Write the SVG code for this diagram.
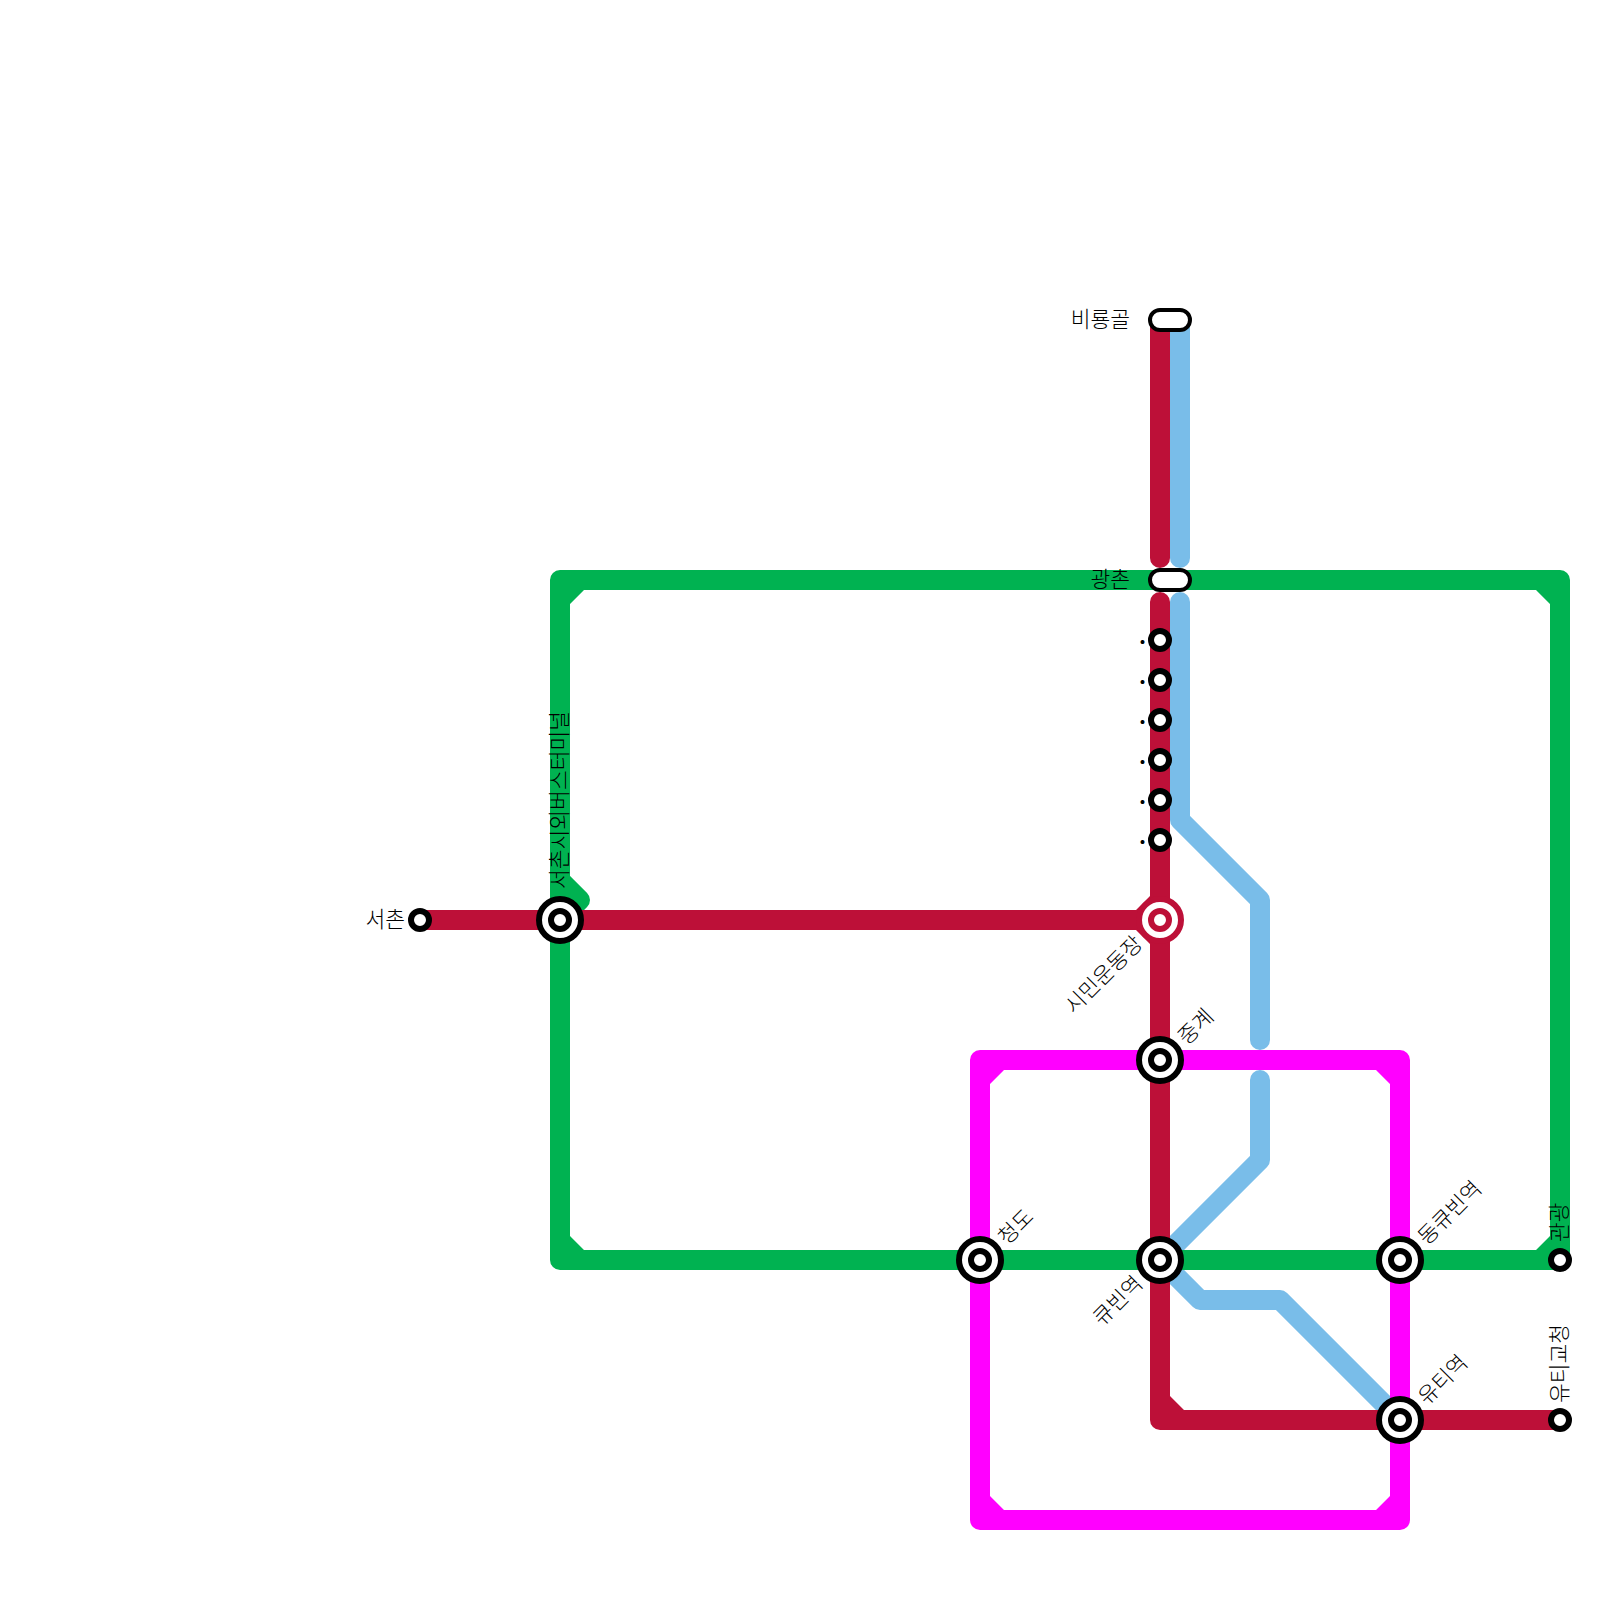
<svg xmlns="http://www.w3.org/2000/svg" width="1600" height="1600" viewBox="0 0 1600 1600">
<style>
.l{fill:none;stroke-width:20;stroke-linecap:round;stroke-linejoin:round}
.b{stroke:#79BDE9}.g{stroke:#00B251}.r{stroke:#BD1038}.m{stroke:#FF00FF}
.fg{fill:#00B251}.fr{fill:#BD1038}.fm{fill:#FF00FF}
.o{fill:#fff;stroke:#000;stroke-width:6}
.i{fill:#fff;stroke:#000;stroke-width:6}
.p{fill:#fff;stroke:#000;stroke-width:4}
.ro{fill:#fff;stroke:#BD1038;stroke-width:6}
.ri{fill:#fff;stroke:#BD1038;stroke-width:6}
text{font-family:"Noto Sans CJK KR","Noto Sans",sans-serif;font-size:21.5px;font-weight:300;fill:#000}
text.d{font-weight:700}
</style>
<g id="connectors">
<path class="l b" d="M1180 320V558M1180 602V820L1260 900V1040M1260 1080V1160L1160 1260L1200 1300H1280L1400 1420"/>
<path class="l g" d="M1160 580H560V1260H1560V580H1160M560 880L580 900L560 920"/>
<path class="fg" d="M570 590H584L570 604ZM570 1250H584L570 1236ZM1550 590H1536L1550 604ZM1550 1250H1536L1550 1236Z"/>
<path class="l r" d="M1160 320V558M1160 602V1420H1560M420 920H1160"/>
<path class="fr" d="M1150 910H1136L1150 896ZM1150 930H1136L1150 944ZM1170 1410H1184L1170 1396Z"/>
<path class="l m" d="M980 1060H1400V1520H980Z"/>
<path class="fm" d="M990 1070H1004L990 1084ZM1390 1070H1376L1390 1084ZM990 1510H1004L990 1496ZM1390 1510H1376L1390 1496Z"/>
</g>
<g id="n-biryonggol"><rect class="p" x="1150" y="310" width="40" height="20" rx="10"/><text x="1130" y="327" text-anchor="end">비룡골</text></g>
<g id="n-gwangchon"><rect class="p" x="1150" y="570" width="40" height="20" rx="10"/><text x="1130" y="587" text-anchor="end">광촌</text></g>
<g id="n-d1"><circle class="i" cx="1160" cy="640" r="9"/><text class="d" x="1146" y="644" text-anchor="end">.</text></g>
<g id="n-d2"><circle class="i" cx="1160" cy="680" r="9"/><text class="d" x="1146" y="684" text-anchor="end">.</text></g>
<g id="n-d3"><circle class="i" cx="1160" cy="720" r="9"/><text class="d" x="1146" y="724" text-anchor="end">.</text></g>
<g id="n-d4"><circle class="i" cx="1160" cy="760" r="9"/><text class="d" x="1146" y="764" text-anchor="end">.</text></g>
<g id="n-d5"><circle class="i" cx="1160" cy="800" r="9"/><text class="d" x="1146" y="804" text-anchor="end">.</text></g>
<g id="n-d6"><circle class="i" cx="1160" cy="840" r="9"/><text class="d" x="1146" y="844" text-anchor="end">.</text></g>
<g id="n-seochon"><circle class="i" cx="420" cy="920" r="9"/><text x="405" y="927" text-anchor="end">서촌</text></g>
<g id="n-terminal"><circle class="o" cx="560" cy="920" r="21"/><circle class="i" cx="560" cy="920" r="9"/><text transform="translate(567 889) rotate(-90)">서촌시외버스터미널</text></g>
<g id="n-stadium"><circle class="ro" cx="1160" cy="920" r="21"/><circle class="ri" cx="1160" cy="920" r="9"/><text transform="translate(1144 945) rotate(-45)" text-anchor="end">시민운동장</text></g>
<g id="n-junggye"><circle class="o" cx="1160" cy="1060" r="21"/><circle class="i" cx="1160" cy="1060" r="9"/><text transform="translate(1187 1046) rotate(-45)">중계</text></g>
<g id="n-cheongdo"><circle class="o" cx="980" cy="1260" r="21"/><circle class="i" cx="980" cy="1260" r="9"/><text transform="translate(1007 1246) rotate(-45)">청도</text></g>
<g id="n-gyubin"><circle class="o" cx="1160" cy="1260" r="21"/><circle class="i" cx="1160" cy="1260" r="9"/><text transform="translate(1144 1285) rotate(-45)" text-anchor="end">큐빈역</text></g>
<g id="n-donggyubin"><circle class="o" cx="1400" cy="1260" r="21"/><circle class="i" cx="1400" cy="1260" r="9"/><text transform="translate(1427 1246) rotate(-45)">동큐빈역</text></g>
<g id="n-uti"><circle class="o" cx="1400" cy="1420" r="21"/><circle class="i" cx="1400" cy="1420" r="9"/><text transform="translate(1427 1406) rotate(-45)">유티역</text></g>
<g id="n-gwangwang"><circle class="i" cx="1560" cy="1260" r="9"/><text transform="translate(1567 1242) rotate(-90)">관광</text></g>
<g id="n-yuti"><circle class="i" cx="1560" cy="1420" r="9"/><text transform="translate(1567 1403) rotate(-90)">유티교청</text></g>
</svg>
